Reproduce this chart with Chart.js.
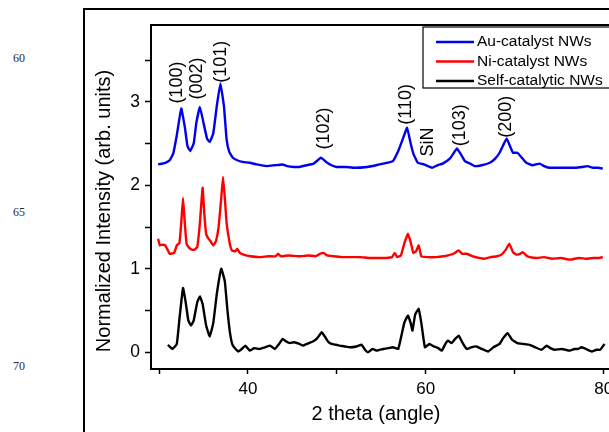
<!DOCTYPE html>
<html>
<head>
<meta charset="utf-8">
<script src="https://cdn.jsdelivr.net/npm/chart.js@4.4.1/dist/chart.umd.min.js"></script>
<style>
  body { margin: 0; width: 609px; height: 432px; overflow: hidden; background: #fff; position: relative; }
  #frame { position: absolute; left: 83px; top: 8px; width: 700px; height: 600px;
           border-left: 2.5px solid #000; border-top: 2.5px solid #000; }
  .lineNo { position: absolute; left: 13px; font: 12px "Liberation Serif", "Times New Roman", serif; color: #2a2a2a; }
  #xrd { position: absolute; left: 0; top: 0; }
</style>
</head>
<body>
<div id="frame"></div>
<div class="lineNo" style="top:51px">60</div>
<div class="lineNo" style="top:205px">65</div>
<div class="lineNo" style="top:359px">70</div>
<canvas id="xrd" width="640" height="432"></canvas>
<script>
// Au-catalyst NWs (offset by 2)
const auAngle = [29.9, 30.7, 31.2, 31.6, 32.0, 32.5, 32.9, 33.2, 33.5, 33.9, 34.2, 34.6, 35.0, 35.4, 35.7, 36.1, 36.5, 36.9, 37.3, 37.6,
  37.9, 38.3, 38.8, 39.4, 40.2, 41.0, 42.1, 43.0, 43.9, 44.4, 45.2, 45.8, 46.6, 47.4, 48.2, 48.8, 49.4, 50.0, 51.0, 52.0,
  53.4, 54.4, 55.2, 56.3, 56.9, 57.4, 57.9, 58.3, 58.6, 59.1, 59.8, 60.7, 61.3, 61.9, 62.7, 63.1, 63.5, 63.9, 64.4, 65.0,
  65.5, 66.3, 67.2, 67.8, 68.3, 68.7, 69.1, 69.5, 69.8, 70.3, 70.8, 71.3, 72.0, 72.8, 73.3, 73.9, 74.8, 75.8, 76.8, 77.6,
  78.2, 78.8, 79.4, 79.9];
const auIntensity = [2.25, 2.27, 2.30, 2.38, 2.60, 2.92, 2.70, 2.47, 2.41, 2.50, 2.75, 2.94, 2.75, 2.56, 2.52, 2.62, 2.95, 3.22, 2.95, 2.55,
  2.40, 2.33, 2.30, 2.28, 2.27, 2.25, 2.23, 2.24, 2.25, 2.23, 2.22, 2.22, 2.24, 2.26, 2.33, 2.28, 2.24, 2.22, 2.22, 2.21,
  2.22, 2.24, 2.26, 2.29, 2.41, 2.55, 2.69, 2.50, 2.38, 2.27, 2.25, 2.21, 2.24, 2.26, 2.32, 2.38, 2.44, 2.38, 2.29, 2.26,
  2.23, 2.24, 2.27, 2.32, 2.39, 2.48, 2.56, 2.46, 2.39, 2.39, 2.33, 2.27, 2.24, 2.26, 2.23, 2.21, 2.21, 2.21, 2.21, 2.22,
  2.23, 2.21, 2.21, 2.20];

// Ni-catalyst NWs (offset by 1)
const niAngle = [29.9, 30.1, 30.4, 30.7, 31.0, 31.2, 31.7, 32.0, 32.3, 32.5, 32.7, 32.9, 33.1, 33.4, 33.7, 34.0, 34.3, 34.6, 34.9, 35.1,
  35.3, 35.5, 35.8, 36.1, 36.4, 36.7, 37.0, 37.2, 37.4, 37.6, 37.8, 38.0, 38.2, 38.6, 38.8, 39.1, 39.5, 40.3, 41.3, 42.3,
  43.1, 43.4, 43.7, 44.6, 45.8, 46.8, 47.6, 48.1, 48.5, 48.9, 49.6, 50.6, 51.6, 52.6, 53.7, 54.8, 55.6, 56.2, 56.5, 56.8,
  57.2, 57.6, 58.0, 58.3, 58.6, 58.9, 59.2, 59.5, 60.2, 61.2, 62.0, 62.5, 63.1, 63.7, 64.1, 64.6, 65.3, 66.0, 66.6, 67.3,
  68.0, 68.5, 69.0, 69.4, 69.8, 70.2, 70.6, 70.9, 71.3, 71.7, 72.5, 73.3, 74.2, 75.2, 76.2, 77.2, 78.0, 78.9, 79.5, 79.9];
const niIntensity = [1.36, 1.28, 1.29, 1.28, 1.22, 1.18, 1.19, 1.28, 1.31, 1.55, 1.85, 1.55, 1.30, 1.25, 1.23, 1.23, 1.26, 1.55, 1.97, 1.65,
  1.42, 1.37, 1.33, 1.28, 1.33, 1.50, 1.85, 2.10, 1.85, 1.55, 1.40, 1.28, 1.22, 1.21, 1.24, 1.19, 1.17, 1.15, 1.14, 1.15,
  1.15, 1.18, 1.15, 1.16, 1.15, 1.16, 1.15, 1.18, 1.19, 1.16, 1.15, 1.14, 1.14, 1.14, 1.13, 1.13, 1.13, 1.14, 1.19, 1.14,
  1.16, 1.31, 1.42, 1.32, 1.19, 1.21, 1.28, 1.15, 1.14, 1.14, 1.15, 1.16, 1.18, 1.22, 1.18, 1.18, 1.15, 1.13, 1.12, 1.14,
  1.15, 1.17, 1.23, 1.30, 1.20, 1.17, 1.18, 1.20, 1.16, 1.14, 1.13, 1.14, 1.12, 1.13, 1.11, 1.13, 1.12, 1.13, 1.13, 1.14];

// Self-catalytic NWs
const selfAngle = [31.0, 31.5, 32.0, 32.3, 32.7, 33.0, 33.3, 33.6, 33.9, 34.3, 34.6, 34.9, 35.3, 35.7, 36.1, 36.5, 37.0, 37.4, 37.7, 38.0,
  38.3, 38.9, 39.3, 39.7, 40.2, 40.7, 41.3, 41.9, 42.5, 43.0, 43.5, 43.9, 44.3, 44.7, 45.2, 45.8, 46.2, 46.6, 47.3, 47.8,
  48.3, 48.7, 49.0, 49.4, 49.9, 50.3, 50.9, 51.5, 52.2, 52.8, 53.1, 53.5, 54.0, 54.5, 55.2, 55.8, 56.3, 56.9, 57.3, 57.6,
  58.0, 58.3, 58.5, 58.8, 59.2, 59.5, 59.9, 60.4, 60.9, 61.4, 61.8, 62.2, 62.5, 62.9, 63.3, 63.7, 64.1, 64.6, 65.1, 65.7,
  66.3, 67.0, 67.6, 68.3, 68.7, 69.2, 69.7, 70.3, 71.0, 71.7, 72.3, 73.0, 73.6, 74.0, 74.5, 75.3, 76.2, 76.7, 77.1, 77.5,
  77.8, 78.2, 78.7, 79.2, 79.6, 80.1];
const selfIntensity = [0.09, 0.04, 0.10, 0.40, 0.77, 0.60, 0.38, 0.32, 0.38, 0.60, 0.67, 0.58, 0.32, 0.19, 0.35, 0.70, 1.00, 0.85, 0.50, 0.22,
  0.08, 0.01, 0.04, 0.08, 0.02, 0.05, 0.04, 0.06, 0.08, 0.04, 0.10, 0.16, 0.13, 0.11, 0.12, 0.10, 0.08, 0.10, 0.13, 0.17,
  0.24, 0.18, 0.13, 0.10, 0.09, 0.08, 0.07, 0.06, 0.07, 0.09, 0.04, 0.00, 0.04, 0.02, 0.04, 0.05, 0.06, 0.04, 0.22, 0.36,
  0.44, 0.35, 0.26, 0.45, 0.52, 0.35, 0.06, 0.10, 0.07, 0.05, 0.02, 0.10, 0.14, 0.11, 0.16, 0.20, 0.12, 0.04, 0.06, 0.07,
  0.04, 0.01, 0.06, 0.10, 0.17, 0.23, 0.15, 0.11, 0.10, 0.09, 0.06, 0.03, 0.08, 0.05, 0.03, 0.04, 0.02, 0.04, 0.04, 0.06,
  0.05, 0.03, 0.01, 0.03, 0.03, 0.10];

// peak labels (angle, height where the label sits)
const peakLabels = ['(100)', '(002)', '(101)', '(102)', '(110)', 'SiN', '(103)', '(200)'];
const peakAngle = [32.0, 34.3, 37.0, 48.6, 57.8, 60.3, 63.8, 69.0];
const peakLevel = [3.23, 3.28, 3.48, 2.68, 2.97, 2.52, 2.72, 2.82];

const seriesNames = ['Au-catalyst NWs', 'Ni-catalyst NWs', 'Self-catalytic NWs'];
const seriesColors = ['#0000ee', '#ff0000', '#000000'];
const yTickLabels = [0, 1, 2, 3];
const xTickLabels = [40, 60, 80];

const FONT = '"Liberation Sans", Arial, sans-serif';

function toPoints(xs, ys) {
    return xs.map((x, i) => ({ x: x, y: ys[i] }));
}

// frame, peak labels and the boxed legend
const decorations = {
    id: 'decorations',
    afterDraw(chart) {
        const ctx = chart.ctx;
        const area = chart.chartArea;
        const xs = chart.scales.x;
        const ys = chart.scales.y;
        ctx.save();

        // plot box
        ctx.strokeStyle = '#000';
        ctx.lineWidth = 2;
        ctx.strokeRect(area.left, area.top, area.right - area.left, area.bottom - area.top);

        // rotated peak labels
        ctx.fillStyle = '#000';
        ctx.font = '18px ' + FONT;
        ctx.textAlign = 'center';
        ctx.textBaseline = 'middle';
        peakLabels.forEach((txt, i) => {
            ctx.save();
            ctx.translate(xs.getPixelForValue(peakAngle[i]), ys.getPixelForValue(peakLevel[i]));
            ctx.rotate(-Math.PI / 2);
            ctx.fillText(txt, 0, 0);
            ctx.restore();
        });

        // axis titles
        ctx.font = '20px ' + FONT;
        ctx.fillText('2 theta (angle)', xs.getPixelForValue(54.4), 414);
        ctx.save();
        ctx.translate(104, 211);
        ctx.rotate(-Math.PI / 2);
        ctx.fillText('Normalized Intensity (arb. units)', 0, 0);
        ctx.restore();

        // legend box
        const lx = 423, ly = 27;
        ctx.fillStyle = '#fff';
        ctx.fillRect(lx, ly, 220, 61);
        ctx.lineWidth = 1.2;
        ctx.strokeRect(lx, ly, 220, 61);
        ctx.font = '15.5px ' + FONT;
        ctx.textAlign = 'left';
        seriesNames.forEach((name, i) => {
            const y = ly + 15 + i * 19.5;
            ctx.strokeStyle = seriesColors[i];
            ctx.lineWidth = 2.5;
            ctx.beginPath();
            ctx.moveTo(lx + 13, y);
            ctx.lineTo(lx + 51, y);
            ctx.stroke();
            ctx.fillStyle = '#000';
            ctx.fillText(name, lx + 54, y);
        });
        ctx.restore();
    }
};

const ctx = document.getElementById('xrd').getContext('2d');
const xrdChart = new Chart(ctx, {
    type: 'line',
    data: {
        datasets: [
            { label: seriesNames[0], data: toPoints(auAngle, auIntensity), borderColor: seriesColors[0] },
            { label: seriesNames[1], data: toPoints(niAngle, niIntensity), borderColor: seriesColors[1] },
            { label: seriesNames[2], data: toPoints(selfAngle, selfIntensity), borderColor: seriesColors[2] }
        ]
    },
    options: {
        responsive: false,
        animation: false,
        devicePixelRatio: 1,
        layout: { padding: { top: 25, right: 23, left: 0, bottom: 0 } },
        elements: {
            line: { borderWidth: 2.4, tension: 0.1, fill: false },
            point: { radius: 0 }
        },
        plugins: {
            legend: { display: false },
            tooltip: { enabled: false }
        },
        scales: {
            x: {
                type: 'linear',
                min: 29.1,
                max: 81.5,
                afterFit: (axis) => { axis.height = 63; },
                border: { display: false },
                grid: { drawOnChartArea: false, tickLength: 5, tickColor: '#000', tickWidth: 1.5 },
                ticks: {
                    stepSize: 10,
                    includeBounds: false,
                    maxRotation: 0,
                    autoSkip: false,
                    padding: 5,
                    color: '#000',
                    font: { family: FONT, size: 17 },
                    callback: (v) => xTickLabels.includes(v) ? String(v) : ''
                }
            },
            y: {
                min: -0.2,
                max: 3.92,
                afterFit: (axis) => { axis.width = 151; },
                border: { display: false },
                grid: { drawOnChartArea: false, tickLength: 6, tickColor: '#000', tickWidth: 1.5 },
                ticks: {
                    stepSize: 0.5,
                    includeBounds: false,
                    autoSkip: false,
                    padding: 5,
                    color: '#000',
                    font: { family: FONT, size: 17.5 },
                    callback: (v) => yTickLabels.includes(v) ? String(v) : ''
                }
            }
        }
    },
    plugins: [decorations]
});
</script>
</body>
</html>
